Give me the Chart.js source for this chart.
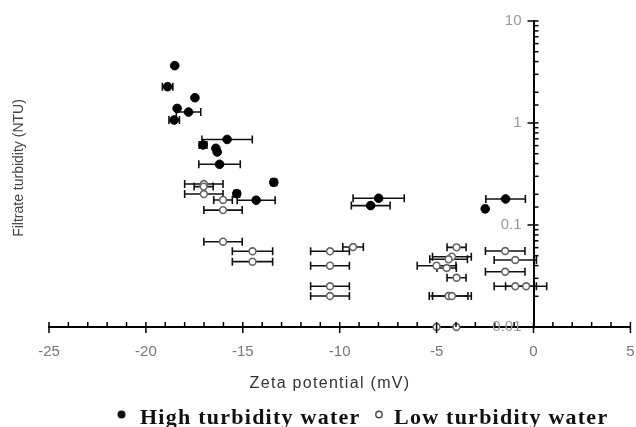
<!DOCTYPE html>
<html><head><meta charset="utf-8">
<script src="https://cdn.jsdelivr.net/npm/chart.js@4/dist/chart.umd.min.js"></script>
<style>html,body{margin:0;padding:0;background:#fff}</style>
</head><body>
<canvas id="c" width="636" height="427"></canvas>
<script>
// ---- data ----
const seriesNames = ['High turbidity water', 'Low turbidity water'];
const highX   = [-18.51,-18.88,-17.47,-18.39,-17.80,-18.54,-15.81,-17.05,-16.39,-16.32,-16.20,-13.40,-15.31,-14.31,-7.99,-8.40,-2.49,-1.44];
const highY   = [3.65,2.27,1.77,1.39,1.28,1.07,0.69,0.61,0.565,0.52,0.394,0.262,0.203,0.175,0.183,0.155,0.144,0.180];
const highErr = [0,0.27,0,0,0.63,0.27,1.3,0.2,0,0,1.07,0.15,0.15,0.98,1.32,1.0,0.1,1.02];
const lowX    = [-17.01,-17.02,-17.01,-16.02,-16.02,-16.02,-14.50,-14.50,-9.31,-10.50,-10.50,-10.50,-10.50,-3.97,-4.21,-4.38,-5.00,-4.48,-3.97,-4.38,-4.21,-5.00,-3.98,-1.46,-0.94,-1.46,-0.94,-0.38];
const lowY    = [0.252,0.238,0.201,0.176,0.140,0.0686,0.0552,0.0437,0.0608,0.0552,0.0399,0.0251,0.0201,0.0604,0.0489,0.0461,0.0399,0.0379,0.0304,0.0201,0.0201,0.01,0.01,0.0556,0.0454,0.0348,0.0251,0.0251];
const lowErr  = [0.99,0.49,0.99,0.48,0.99,0.99,1.04,1.04,0.53,1.0,1.0,1.0,1.0,0.49,1.0,0.97,1.0,0.5,0.49,1.0,1.0,0,0,1.02,1.09,1.02,1.09,1.06];
const xTickValues = [-25,-20,-15,-10,-5,0,5];
const xTickLabels = ['-25','-20','-15','-10','-5','0','5'];
const yTickValues = [0.01,0.1,1,10];
const yTickLabels = ['0.01','0.1','1','10'];
const xTitle = 'Zeta potential (mV)';
const yTitle = 'Filtrate turbidity (NTU)';

const toPts = (xs, ys, es) => xs.map((v, i) => ({x: v, y: ys[i], xErr: es[i]}));

const errorBars = {
  id: 'errorBars',
  beforeDatasetsDraw(chart) {
    const {ctx, scales: {x, y}} = chart;
    ctx.save();
    ctx.strokeStyle = '#111';
    ctx.lineWidth = 1.6;
    chart.data.datasets.forEach(ds => {
      ds.data.forEach(p => {
        if (!p.xErr) return;
        const yp = y.getPixelForValue(p.y);
        const x1 = x.getPixelForValue(p.x - p.xErr);
        const x2 = x.getPixelForValue(p.x + p.xErr);
        ctx.beginPath();
        ctx.moveTo(x1, yp); ctx.lineTo(x2, yp);
        ctx.moveTo(x1, yp - 4); ctx.lineTo(x1, yp + 4);
        ctx.moveTo(x2, yp - 4); ctx.lineTo(x2, yp + 4);
        ctx.stroke();
      });
    });
    ctx.restore();
  }
};

const tickMarks = {
  id: 'tickMarks',
  afterDraw(chart) {
    const {ctx, scales: {x, y}} = chart;
    ctx.save();
    ctx.strokeStyle = '#000';
    ctx.lineWidth = 1.5;
    const yb = y.getPixelForValue(yTickValues[0]);
    x.ticks.forEach(t => {
      const px = x.getPixelForValue(t.value);
      const major = xTickValues.includes(t.value);
      ctx.beginPath();
      ctx.moveTo(px, yb - 5);
      ctx.lineTo(px, yb + (major ? 6 : 0));
      ctx.stroke();
    });
    const x0 = x.getPixelForValue(0);
    y.ticks.forEach(t => {
      const py = y.getPixelForValue(t.value);
      const major = yTickValues.some(v => Math.abs(Math.log10(v) - Math.log10(t.value)) < 1e-6);
      ctx.beginPath();
      ctx.moveTo(x0 - (major ? 6 : 0), py);
      ctx.lineTo(x0 + 5, py);
      ctx.stroke();
    });
    // y tick labels, left of the axis line at x = 0
    ctx.font = '15px "Liberation Sans", Arial, sans-serif';
    ctx.fillStyle = '#999';
    ctx.textAlign = 'right';
    ctx.textBaseline = 'middle';
    yTickValues.forEach((v, i) => {
      ctx.fillText(yTickLabels[i], x0 - 12, y.getPixelForValue(v));
    });
    ctx.restore();
  }
};

const titlesAndLegend = {
  id: 'titlesAndLegend',
  afterDraw(chart) {
    const ctx = chart.ctx;
    ctx.save();
    ctx.save();
    ctx.translate(23, 168);
    ctx.rotate(-Math.PI / 2);
    ctx.font = '14px "Liberation Sans", Arial, sans-serif';
    ctx.fillStyle = '#444';
    ctx.textAlign = 'center';
    ctx.textBaseline = 'alphabetic';
    ctx.fillText(yTitle, 0, 0);
    ctx.restore();
    ctx.font = '16px "Liberation Sans", Arial, sans-serif';
    ctx.letterSpacing = '1.3px';
    ctx.fillStyle = '#333';
    ctx.textAlign = 'center';
    ctx.textBaseline = 'alphabetic';
    ctx.fillText(xTitle, 330, 388);
    ctx.font = 'bold 22px "Liberation Serif", "Times New Roman", serif';
    ctx.letterSpacing = '1.25px';
    ctx.fillStyle = '#111';
    ctx.textAlign = 'left';
    ctx.beginPath(); ctx.arc(121.5, 414.5, 4, 0, Math.PI * 2); ctx.fill();
    ctx.fillText(seriesNames[0], 140, 424);
    ctx.beginPath(); ctx.arc(379, 414.5, 3.2, 0, Math.PI * 2);
    ctx.fillStyle = '#fff'; ctx.fill();
    ctx.strokeStyle = '#444'; ctx.lineWidth = 1.4; ctx.stroke();
    ctx.fillStyle = '#111';
    ctx.fillText(seriesNames[1], 394, 424);
    ctx.restore();
  }
};

new Chart(document.getElementById('c'), {
  type: 'scatter',
  data: {
    datasets: [
      {label: seriesNames[0], data: toPts(highX, highY, highErr), pointStyle: 'circle', pointRadius: 4.3,
       backgroundColor: '#000', borderColor: '#000', borderWidth: 1, clip: false},
      {label: seriesNames[1], data: toPts(lowX, lowY, lowErr), pointStyle: 'circle', pointRadius: 3.4,
       backgroundColor: '#fff', borderColor: '#666', borderWidth: 1.6, clip: false}
    ]
  },
  options: {
    responsive: false,
    animation: false,
    devicePixelRatio: 1,
    layout: {padding: {left: 49, right: 5, top: 21, bottom: 0}},
    plugins: {legend: {display: false}, tooltip: {enabled: false}},
    scales: {
      x: {
        type: 'linear', position: 'bottom', min: -25, max: 5,
        grid: {display: true, drawOnChartArea: false, drawTicks: true, tickLength: 16, tickColor: 'rgba(0,0,0,0)'},
        border: {display: true, color: '#000', width: 2},
        ticks: {stepSize: 1, autoSkip: false, maxRotation: 0, padding: 0,
          color: '#777', font: {family: '"Liberation Sans", Arial, sans-serif', size: 15},
          callback: v => { const i = xTickValues.indexOf(v); return i >= 0 ? xTickLabels[i] : ''; }},
        afterFit: s => { s.height = 100; }
      },
      y: {
        type: 'logarithmic', position: {x: 0}, min: 0.01, max: 10,
        grid: {display: false},
        border: {display: true, color: '#000', width: 2},
        ticks: {display: false, autoSkip: false}
      }
    }
  },
  plugins: [errorBars, tickMarks, titlesAndLegend]
});
</script>
</body></html>
